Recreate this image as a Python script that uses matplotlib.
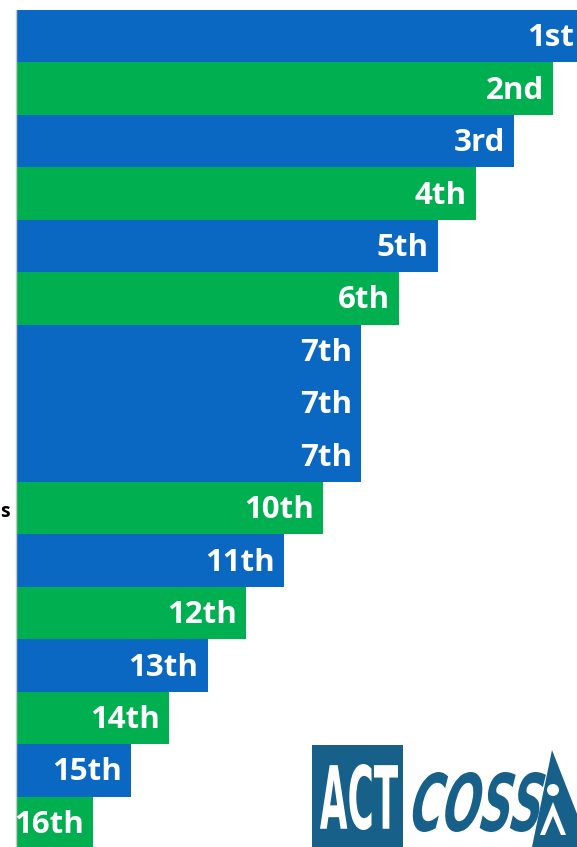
import matplotlib
matplotlib.use("Agg")
import matplotlib.pyplot as plt
from matplotlib.textpath import TextPath
from matplotlib.font_manager import FontProperties
from matplotlib.patches import PathPatch, Rectangle, Polygon, Circle
from matplotlib.transforms import Affine2D

ranks = ["1st", "2nd", "3rd", "4th", "5th", "6th", "7th", "7th", "7th",
         "10th", "11th", "12th", "13th", "14th", "15th", "16th"]
scores = [14.8, 14, 13, 12, 11, 10, 9, 9, 9, 8, 7, 6, 5, 4, 3, 2]
groups = ["b", "g", "b", "g", "b", "g", "b", "b", "b",
          "g", "b", "g", "b", "g", "b", "g"]
palette = {"b": "#0A67C2", "g": "#00B050"}

W, H = 577, 847
fig = plt.figure(figsize=(W / 100, H / 100), dpi=100)
ax = fig.add_axes([16 / W, (H - 849) / H, 1 - 16 / W, 839 / H])

ypos = list(range(len(scores)))
ax.barh(ypos, scores, height=1.0, color=[palette[g] for g in groups],
        edgecolor="none")
ax.set_xlim(0, 561 / 38.33)
ax.set_ylim(len(scores) - 0.5, -0.5)

for y, v, lab in zip(ypos, scores, ranks):
    ax.annotate(lab, (v, y), xytext=(-6.5, -1.5), textcoords="offset points",
                ha="right", va="center", color="white", fontsize=22.5,
                fontweight="bold", family="Open Sans", annotation_clip=False)

ax.set_xticks([])
ax.set_yticks([])
for s in ["top", "right", "bottom"]:
    ax.spines[s].set_visible(False)
ax.spines["left"].set_color("#C8C8C8")
ax.spines["left"].set_linewidth(1.0)

# cropped category label
fig.text(0 / W, 1 - 512 / H, "s", ha="left", va="center", fontsize=14,
         fontweight="bold", family="Open Sans", color="black")

# ---- logo (drawn in pixel coordinates on an overlay axes) ----
lax = fig.add_axes([0, 0, 1, 1], facecolor="none")
lax.set_xlim(0, W)
lax.set_ylim(H, 0)
lax.axis("off")
logo = "#17608A"

lax.add_patch(Rectangle((312, 745), 91, 104, color=logo, lw=0))


def fit_text(txt, x0, y0, x1, y1, color, skew=0.0, italic=False):
    fp = FontProperties(family="DejaVu Sans", weight="bold",
                        style="italic" if italic else "normal")
    tp = TextPath((0, 0), txt, prop=fp, size=10)
    ext = tp.get_extents()
    sx = (x1 - x0) / ext.width
    sy = (y1 - y0) / ext.height
    tr = (Affine2D().translate(-ext.x0, -ext.y0).skew_deg(skew, 0)
          .scale(sx, -sy).translate(x0, y1))
    path = tr.transform_path(tp)
    lax.add_patch(PathPatch(path, color=color, lw=0))


fit_text("ACT", 320, 764, 398, 830, "white")
fit_text("COSS", 410, 772, 538, 832, logo, skew=14, italic=True)

lax.add_patch(Polygon([[552, 750], [532, 847], [590, 847]], closed=True,
                      color=logo, lw=0))
lax.add_patch(Circle((553, 790), 6, color="white", lw=0))
lax.add_patch(Polygon([[553, 802], [540, 835], [566, 835]], closed=True,
                      color="white", lw=0))
lax.add_patch(Polygon([[553, 816], [545, 835], [561, 835]], closed=True,
                      color=logo, lw=0))

fig.savefig("out.png", dpi=100)
